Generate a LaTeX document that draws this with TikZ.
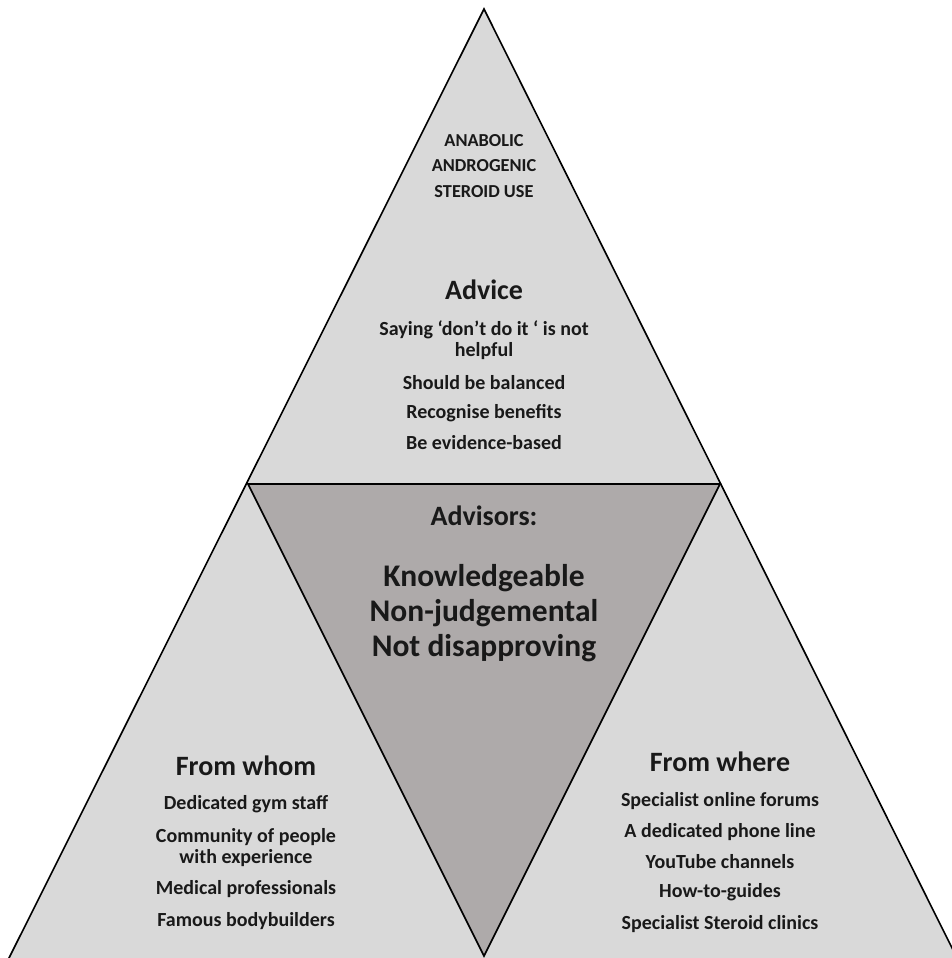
\documentclass[tikz,border=0pt]{standalone}
\usepackage{fontspec}
\setmainfont{Carlito}
\definecolor{lightg}{HTML}{D9D9D9}
\definecolor{darkg}{HTML}{AEAAAA}
\begin{document}
\begin{tikzpicture}[x=1pt,y=-1pt,
  tri/.style={draw=black,line width=1.6pt,line join=miter},
  caps/.style={font=\bfseries\fontsize{18.3}{22}\selectfont,align=center,inner sep=0pt,text=black!90},
  small/.style={font=\bfseries\fontsize{20}{24}\selectfont,align=center,inner sep=0pt,text=black!90},
  head/.style={font=\bfseries\fontsize{28}{32}\selectfont,align=center,inner sep=0pt,text=black!90},
  big/.style={font=\bfseries\fontsize{31.5}{36}\selectfont,align=center,inner sep=0pt,text=black!90}]
\useasboundingbox (0,0) rectangle (952,958);
\clip (0,0) rectangle (952,958);
\fill[white] (0,0) rectangle (952,958);
% outer triangle
\coordinate (A) at (484,9);
\coordinate (BL) at (8,960);
\coordinate (BR) at (958,960);
\coordinate (IL) at (248,484);
\coordinate (IR) at (720,484);
\coordinate (IB) at (484,956);
\filldraw[tri,fill=lightg] (A) -- (BL) -- (BR) -- cycle;
\filldraw[tri,fill=darkg] (IL) -- (IR) -- (IB) -- cycle;
% top
\node[caps] (t1) at (484,141) {ANABOLIC};
\node[caps] (t2) at (484,166) {ANDROGENIC};
\node[caps] (t3) at (484,192) {STEROID USE};
\node[head] (adv) at (484,290) {Advice};
\node[small] (a1) at (484,330) {Saying ‘don’t do it ‘ is not};
\node[small] (a1b) at (484,351) {helpful};
\node[small] (a2) at (484,383) {Should be balanced};
\node[small] (a3) at (484,413) {Recognise benefits};
\node[small] (a4) at (484,443) {Be evidence-based};
% middle
\node[head] (advs) at (484,516) {Advisors:};
\node[big] (m1) at (484,578) {Knowledgeable};
\node[big] (m2) at (484,613) {Non-judgemental};
\node[big] (m3) at (484,648) {Not disapproving};
% left
\node[head] (fw) at (246,766) {From whom};
\node[small] (l1) at (246,804) {Dedicated gym staff};
\node[small] (l2) at (246,837) {Community of people};
\node[small] (l2b) at (246,858) {with experience};
\node[small] (l3) at (246,889) {Medical professionals};
\node[small] (l4) at (246,921) {Famous bodybuilders};
% right
\node[head] (fwh) at (720,762) {From where};
\node[small] (r1) at (720,801) {Specialist online forums};
\node[small] (r2) at (720,832) {A dedicated phone line};
\node[small] (r3) at (720,862) {YouTube channels};
\node[small] (r4) at (720,892) {How-to-guides};
\node[small] (r5) at (720,924) {Specialist Steroid clinics};
\end{tikzpicture}
\end{document}
